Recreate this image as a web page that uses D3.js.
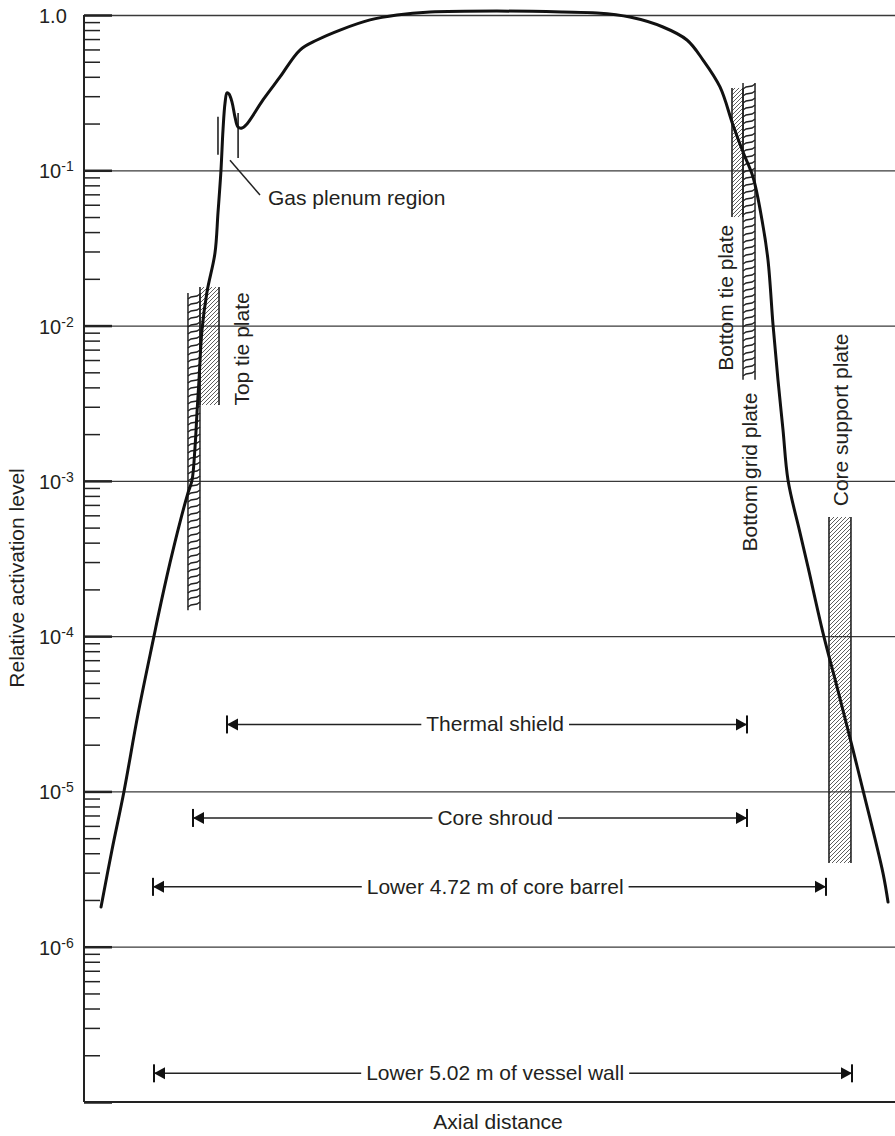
<!DOCTYPE html>
<html>
<head>
<meta charset="utf-8">
<script src="https://cdn.jsdelivr.net/npm/d3@7"></script>
<style>
body { margin: 0; background: #fff; }
text { font-family: "Liberation Sans", Arial, sans-serif; fill: #231f20; }
</style>
</head>
<body>
<div id="chart"></div>
<script>
// activation profile along the axis (x in arbitrary axial units 0-100)
const profileX = [2.10, 3.45, 4.93, 6.66, 8.63, 9.12, 10.60, 11.84, 12.82, 13.32, 13.69, 13.93, 14.18, 14.55,
    15.17, 16.15, 16.52, 16.89, 17.14, 17.39, 17.63, 17.88, 18.25, 18.62, 18.99, 19.48, 20.10, 22.07, 24.17,
    26.63, 28.73, 31.57, 35.27, 38.59, 42.66, 50.92, 59.06, 63.25, 67.31, 71.39, 74.35, 76.33, 78.42, 80.02,
    81.26, 82.49, 83.60, 84.34, 84.96, 85.57, 86.19, 86.81, 88.29, 89.27, 91.12, 92.85, 94.82, 96.05, 98.52, 99.14];
const profileY = [1.8e-6, 4.2e-6, 1.0e-5, 3.15e-5, 1.0e-4, 1.33e-4, 2.96e-4, 5.43e-4, 8.35e-4, 1.01e-3, 1.65e-3, 2.73e-3, 4.46e-3, 9.4e-3,
    0.0165, 0.0293, 0.0531, 0.100, 0.182, 0.271, 0.315, 0.310, 0.275, 0.220, 0.190, 0.187, 0.199, 0.284, 0.399,
    0.595, 0.690, 0.800, 0.930, 1.000, 1.045, 1.060, 1.045, 1.030, 0.970, 0.837, 0.690, 0.513, 0.344, 0.196,
    0.131, 0.0905, 0.0479, 0.0264, 0.0101, 4.47e-3, 2.13e-3, 1.01e-3, 4.62e-4, 2.79e-4, 1.05e-4, 4.71e-5, 1.85e-5, 1.02e-5, 2.98e-6, 1.94e-6];

// y axis
const decadeValues = [1, 1e-1, 1e-2, 1e-3, 1e-4, 1e-5, 1e-6];
const tickBase = ["1.0", "10", "10", "10", "10", "10", "10"];
const tickSup = ["", "-1", "-2", "-3", "-4", "-5", "-6"];

// hatched plates: [x0, x1, low, high]
const hatchPlates = [
    [14.30, 16.65, 3.08e-3, 0.0177],
    [79.90, 81.26, 0.050, 0.339],
    [91.86, 94.57, 3.46e-6, 5.85e-4]
];
// zig-zag (grid) plates
const gridPlates = [
    [12.82, 14.30, 1.47e-4, 0.0162],
    [81.26, 82.74, 4.47e-3, 0.365]
];

// vertical plate labels: [text, x, level]
const plateLabels = [
    ["Top tie plate", 19.36, 7.07e-3],
    ["Bottom tie plate", 79.04, 0.0151],
    ["Bottom grid plate", 82.12, 1.14e-3],
    ["Core support plate", 93.22, 2.47e-3]
];

// gas plenum marks
const plenumMarks = [[16.52, 0.126, 0.221], [19.0, 0.120, 0.234]];
const plenumLeader = [[18.0, 0.116], [21.7, 0.0693]];
const plenumText = ["Gas plenum region", 22.69, 0.0598];

// component extents along the axis
const spanLabels = ["Thermal shield", "Core shroud", "Lower 4.72 m of core barrel", "Lower 5.02 m of vessel wall"];
const spanStart = [17.63, 13.44, 8.51, 8.63];
const spanEnd = [81.75, 81.75, 91.49, 94.70];
const spanLevel = [2.70e-5, 6.75e-6, 2.43e-6, 1.53e-7];
const spanTextX = 50.7;

const W = 895, H = 1136;
const margin = { top: 15, right: 0, bottom: 34, left: 84 };
const width = W - margin.left - margin.right,
    height = H - margin.top - margin.bottom;

const svg = d3.select("#chart").append("svg")
    .attr("width", W)
    .attr("height", H);

const defs = svg.append("defs");
defs.append("pattern")
    .attr("id", "hatch")
    .attr("patternUnits", "userSpaceOnUse")
    .attr("width", 4).attr("height", 4)
    .append("path")
    .attr("d", "M-1,1 l2,-2 M0,4 l4,-4 M3,5 l2,-2")
    .attr("stroke", "#333")
    .attr("stroke-width", 0.8);

const g = svg.append("g")
    .attr("transform", "translate(" + margin.left + "," + margin.top + ")");

const x = d3.scaleLinear().domain([0, 100]).range([0, width]);
const y = d3.scaleLog().domain([1e-7, 1]).range([height, 0]);

// grid lines
g.append("g")
    .call(d3.axisLeft(y).tickValues(decadeValues).tickSize(-width).tickFormat(""))
    .call(a => a.select(".domain").remove())
    .selectAll("line")
    .attr("stroke", "#3a3a3a")
    .attr("stroke-width", 1.3);

// minor and major ticks, pointing inward
const minorValues = y.ticks().filter(d => Math.abs(Math.log10(d) - Math.round(Math.log10(d))) > 1e-6);
g.append("g")
    .call(d3.axisRight(y).tickValues(minorValues).tickSize(16).tickFormat(""))
    .call(a => a.select(".domain").remove())
    .selectAll("line")
    .attr("stroke", "#222")
    .attr("stroke-width", 1.5);

g.append("g")
    .call(d3.axisRight(y).tickValues(decadeValues.concat([1e-7])).tickSize(28).tickFormat(""))
    .call(a => a.select(".domain").remove())
    .selectAll("line")
    .attr("stroke", "#222")
    .attr("stroke-width", 2.5);

// spines
g.append("line").attr("x1", 0).attr("x2", 0).attr("y1", 0).attr("y2", height)
    .attr("stroke", "#222").attr("stroke-width", 2);
g.append("line").attr("x1", 0).attr("x2", width).attr("y1", height).attr("y2", height)
    .attr("stroke", "#222").attr("stroke-width", 2);

// tick labels
const tl = g.selectAll(".tlab").data(decadeValues).enter()
    .append("text")
    .attr("class", "tlab")
    .attr("x", -45)
    .attr("y", d => y(d) + 8)
    .style("font-size", "20px");
tl.append("tspan").text((d, i) => tickBase[i]);
tl.append("tspan")
    .attr("dy", -7)
    .style("font-size", "14px")
    .text((d, i) => tickSup[i]);

// hatched plates
hatchPlates.forEach(p => {
    const x0 = x(p[0]), x1 = x(p[1]), yt = y(p[3]), yb = y(p[2]);
    g.append("rect")
        .attr("x", x0).attr("y", yt)
        .attr("width", x1 - x0).attr("height", yb - yt)
        .attr("fill", "url(#hatch)");
    [x0, x1].forEach(xx => g.append("line")
        .attr("x1", xx).attr("x2", xx).attr("y1", yt).attr("y2", yb)
        .attr("stroke", "#222").attr("stroke-width", 1.6));
});

// zig-zag plates
gridPlates.forEach(p => {
    const x0 = x(p[0]), x1 = x(p[1]), yt = y(p[3]), yb = y(p[2]);
    [x0, x1].forEach(xx => g.append("line")
        .attr("x1", xx).attr("x2", xx).attr("y1", yt).attr("y2", yb)
        .attr("stroke", "#222").attr("stroke-width", 1.5));
    const rungs = d3.range(yt + 6, yb, 7);
    g.append("path")
        .attr("d", rungs.map(r => "M" + x0 + "," + r + "L" + (x0 + 3) + "," + (r - 2) + "L" + (x1 - 3) + "," + (r - 3) + "L" + x1 + "," + (r - 5)).join(""))
        .attr("stroke", "#222")
        .attr("stroke-width", 1.4)
        .attr("fill", "none");
});

// plate labels
g.selectAll(".plab").data(plateLabels).enter()
    .append("text")
    .attr("class", "plab")
    .attr("transform", d => "translate(" + x(d[1]) + "," + y(d[2]) + ") rotate(-90)")
    .attr("text-anchor", "middle")
    .attr("dominant-baseline", "central")
    .style("font-size", "21px")
    .text(d => d[0]);

// gas plenum marks
plenumMarks.forEach(m => g.append("line")
    .attr("x1", x(m[0])).attr("x2", x(m[0]))
    .attr("y1", y(m[1])).attr("y2", y(m[2]))
    .attr("stroke", "#222").attr("stroke-width", 1.6));
g.append("line")
    .attr("x1", x(plenumLeader[0][0])).attr("y1", y(plenumLeader[0][1]))
    .attr("x2", x(plenumLeader[1][0])).attr("y2", y(plenumLeader[1][1]))
    .attr("stroke", "#222").attr("stroke-width", 1.5);
g.append("text")
    .attr("x", x(plenumText[1]))
    .attr("y", y(plenumText[2]))
    .style("font-size", "21px")
    .text(plenumText[0]);

// activation curve
const line = d3.line()
    .x(d => x(d[0]))
    .y(d => y(d[1]))
    .curve(d3.curveCatmullRom.alpha(0.5));

g.append("path")
    .datum(d3.zip(profileX, profileY))
    .attr("d", line)
    .attr("fill", "none")
    .attr("stroke", "#111")
    .attr("stroke-width", 3)
    .attr("stroke-linejoin", "round")
    .attr("stroke-linecap", "round");

// span arrows
function endCap(sel, xp, yp, dir) {
    sel.append("path")
        .attr("d", "M" + xp + "," + yp + "L" + (xp - dir * 11) + "," + (yp - 6) + "L" + (xp - dir * 11) + "," + (yp + 6) + "Z")
        .attr("fill", "#111");
    sel.append("line")
        .attr("x1", xp).attr("x2", xp)
        .attr("y1", yp - 9).attr("y2", yp + 9)
        .attr("stroke", "#111").attr("stroke-width", 2);
}

spanLabels.forEach((lab, i) => {
    const s = g.append("g");
    const yp = y(spanLevel[i]);
    s.append("line")
        .attr("x1", x(spanStart[i])).attr("x2", x(spanEnd[i]))
        .attr("y1", yp).attr("y2", yp)
        .attr("stroke", "#222").attr("stroke-width", 1.5);
    endCap(s, x(spanStart[i]), yp, -1);
    endCap(s, x(spanEnd[i]), yp, 1);
    const t = s.append("text")
        .attr("x", x(spanTextX))
        .attr("y", yp + 7)
        .attr("text-anchor", "middle")
        .style("font-size", "21px")
        .text(lab);
    const bb = t.node().getBBox();
    s.insert("rect", "text")
        .attr("x", bb.x - 5).attr("y", yp - 3)
        .attr("width", bb.width + 10).attr("height", 6)
        .attr("fill", "#fff");
});

// axis titles
svg.append("text")
    .attr("transform", "translate(16," + 578 + ") rotate(-90)")
    .attr("text-anchor", "middle")
    .attr("dominant-baseline", "central")
    .style("font-size", "21px")
    .text("Relative activation level");

svg.append("text")
    .attr("x", 498)
    .attr("y", 1129)
    .attr("text-anchor", "middle")
    .style("font-size", "21px")
    .text("Axial distance");
</script>
</body>
</html>
